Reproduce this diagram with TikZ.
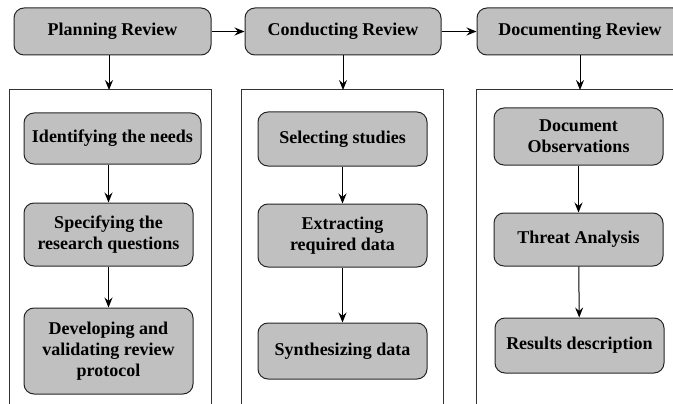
\documentclass[tikz,border=0pt]{standalone}
\usepackage{fontspec}
\setmainfont{Liberation Serif}[BoldFont={Liberation Serif Bold}]
\newfontfamily\timesfont{Liberation Serif}[BoldFont={Liberation Serif Bold}]
\usetikzlibrary{arrows.meta}
\definecolor{boxgray}{RGB}{192,192,192}
\begin{document}
\begin{tikzpicture}[x=1pt,y=-1pt,
  phase/.style={draw=black!85,line width=1pt,fill=boxgray,rounded corners=10pt,
    minimum height=47pt,align=center,inner sep=0pt,
    font=\timesfont\bfseries\fontsize{18}{21}\selectfont},
  task/.style={phase,minimum width=169pt},
  flow/.style={line width=1pt,-{Stealth[length=10pt,width=8pt,inset=3.5pt]}},
  panel/.style={line width=1pt,draw=black!80}]
\useasboundingbox (0,0) rectangle (673,404);
% top row
\node (plan) [phase,minimum width=197pt] at (112.5,31.5) {Planning Review};
\node (cond) [phase,minimum width=196pt] at (343,31.5) {Conducting Review};
\node (docu) [phase,minimum width=206pt] at (580,31.5) {Documenting Review};
\draw [flow] (plan) -- (cond);
\draw [flow] (cond) -- (docu);
% panels
\coordinate (pan1) at (109,90);
\coordinate (pan2) at (343,90);
\coordinate (pan3) at (580,90);
\draw [panel] (9,404) |- (211,90) -- (211,404);
\draw [panel] (241,404) |- (443,90) -- (443,404);
\draw [panel] (476,404) |- (690,90);
\draw [flow] (pan1 |- plan.south) -- (pan1);
\draw [flow] (cond.south) -- (pan2);
\draw [flow] (docu.south) -- (pan3);
% planning
\node (need) [task,minimum width=177pt,minimum height=51pt] at (112.5,138.5) {Identifying the needs};
\node (spec) [task,minimum height=63pt] at (108.5,234.5) {Specifying the\\research questions};
\node (prot) [task,minimum height=86pt] at (108.5,351) {Developing and\\validating review\\protocol};
\draw [flow] (spec.north |- need.south) -- (spec);
\draw [flow] (spec) -- (prot);
% conducting
\node (sel) [task,minimum height=54pt] at (342.5,139) {Selecting studies};
\node (ext) [task,minimum height=63pt] at (342.5,235.5) {Extracting\\required data};
\node (syn) [task,minimum height=56pt] at (342.5,351) {Synthesizing data};
\draw [flow] (sel) -- (ext);
\draw [flow] (ext) -- (syn);
% documenting
\node (obs) [task,minimum height=57pt] at (578.5,136.5) {Document\\Observations};
\node (thr) [task,minimum height=53pt] at (578.5,239.5) {Threat Analysis};
\node (res) [task,minimum height=55pt] at (579.5,345.5) {Results description};
\draw [flow] (obs) -- (thr);
\draw [flow] (thr) -- (res);
\end{tikzpicture}
\end{document}
